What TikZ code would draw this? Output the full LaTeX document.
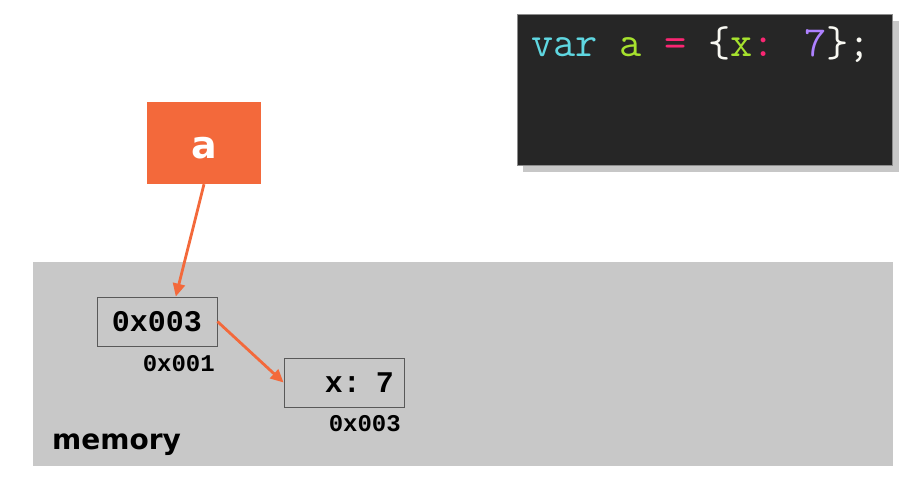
\documentclass[tikz,border=0pt]{standalone}
\usepackage{fontspec}
\newfontfamily\addrfont{Liberation Mono}
\setsansfont{DejaVu Sans}
\usetikzlibrary{arrows.meta}
\definecolor{accent}{RGB}{243,105,59}
\definecolor{membg}{RGB}{200,200,200}
\definecolor{codebg}{RGB}{38,38,38}
\definecolor{kwcyan}{RGB}{95,215,225}
\definecolor{idgreen}{RGB}{166,226,46}
\definecolor{oppink}{RGB}{249,38,114}
\definecolor{numpurple}{RGB}{174,129,255}
\definecolor{plainwhite}{RGB}{248,248,242}
\tikzset{
  cell/.style={draw=black!65, line width=0.9pt, minimum width=120pt, minimum height=49pt, inner sep=0pt,
    font=\addrfont\bfseries\fontsize{30}{30}\selectfont},
  addr/.style={anchor=base east, inner sep=0pt, font=\addrfont\bfseries\fontsize{24}{24}\selectfont},
  link/.style={draw=accent, line width=2.8pt, -{Triangle[length=13pt,width=12pt]}}
}
\begin{document}
\begin{tikzpicture}[x=1pt, y=-1pt]
\useasboundingbox (0,0) rectangle (909,477);
% code panel
\fill [black!22] (523,21) rectangle (899,172);
\filldraw [fill=codebg, draw=black!45, line width=0.8pt] (517,14) rectangle (892,165);
\node (code) [anchor=base west, inner sep=0pt, font=\ttfamily\fontsize{43}{43}\selectfont] at (531,56)
  {\textcolor{kwcyan}{var} \textcolor{idgreen}{a} \textcolor{oppink}{=} \textcolor{plainwhite}{\{}\textcolor{idgreen}{x}\textcolor{oppink}{:} \textcolor{numpurple}{7}\textcolor{plainwhite}{\};}};
% memory
\fill [membg] (33,262) rectangle (893,466);
\node (mem) [anchor=base west, inner sep=0pt, font=\sffamily\bfseries\fontsize{28}{28}\selectfont] at (52,449) {memory};
% variable
\node (var) [fill=accent, minimum width=114pt, minimum height=82pt, inner sep=0pt, text=white,
  text height=31pt, text depth=0pt, font=\sffamily\bfseries\fontsize{38}{38}\selectfont] at (204,143) {a};
% cells
\node (ptr) [cell] at (157,321.5) {0x003};
\node (val) [cell, text width=100pt, align=right] at (344,382.5) {x: 7};
\node (ptraddr) [addr] at (215,371) {0x001};
\node (valaddr) [addr] at (401,431) {0x003};
\draw [link] (var.south) -- (ptr.53);
\draw [link] (ptr.east) -- (val.west);
\end{tikzpicture}
\end{document}
